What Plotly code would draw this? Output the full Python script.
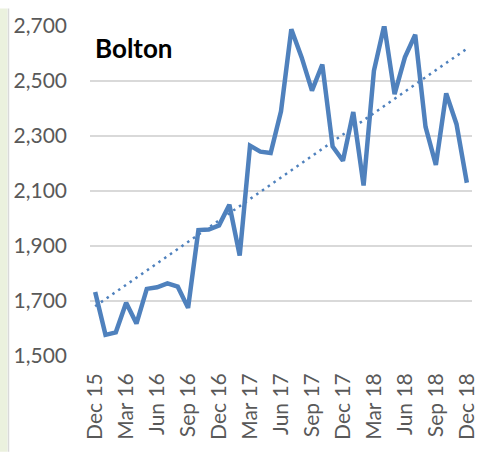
import numpy as np
import plotly.graph_objects as go

# Monthly figures for Bolton, Dec 2015 - Dec 2018
months = [
    "Dec 15", "Jan 16", "Feb 16", "Mar 16", "Apr 16", "May 16", "Jun 16",
    "Jul 16", "Aug 16", "Sep 16", "Oct 16", "Nov 16", "Dec 16",
    "Jan 17", "Feb 17", "Mar 17", "Apr 17", "May 17", "Jun 17",
    "Jul 17", "Aug 17", "Sep 17", "Oct 17", "Nov 17", "Dec 17",
    "Jan 18", "Feb 18", "Mar 18", "Apr 18", "May 18", "Jun 18",
    "Jul 18", "Aug 18", "Sep 18", "Oct 18", "Nov 18", "Dec 18",
]
values = [
    1733, 1577, 1586, 1694, 1618, 1744, 1750, 1764, 1752, 1675, 1958, 1960, 1975,
    2050, 1865, 2265, 2243, 2238, 2390, 2688, 2586, 2465, 2560, 2262, 2210,
    2387, 2120, 2537, 2702, 2452, 2586, 2668, 2333, 2195, 2455, 2343, 2130,
]
tick_labels = ["Dec 15", "Mar 16", "Jun 16", "Sep 16", "Dec 16", "Mar 17", "Jun 17",
               "Sep 17", "Dec 17", "Mar 18", "Jun 18", "Sep 18", "Dec 18"]
y_ticks = [1500, 1700, 1900, 2100, 2300, 2500, 2700]

BLUE = "#4F81BD"
GRID = "#D9D9D9"
TEXT = "#595959"
FONT = "Lato"

# Linear trend over the series
idx = np.arange(len(values))
slope, intercept = np.polyfit(idx, values, 1)
trend = slope * idx + intercept

W, H = 494, 454
L, R, T, B = 90, 22, 18, 98
plot_w = W - L - R
plot_h = H - T - B

def px_x(p):
    return (p - L) / plot_w

def px_y(p):
    return (H - B - p) / plot_h

fig = go.Figure()
fig.add_trace(go.Scatter(
    x=months, y=values, mode="lines",
    line=dict(color=BLUE, width=4.5), showlegend=False,
))
fig.add_trace(go.Scatter(
    x=months, y=trend, mode="lines",
    line=dict(color=BLUE, width=2.5, dash="2.5px,4.5px"), showlegend=False,
))

fig.update_layout(
    width=W, height=H,
    margin=dict(l=L, r=R, t=T, b=B, pad=0),
    paper_bgcolor="white", plot_bgcolor="white",
    font=dict(family=FONT, color=TEXT, size=21),
    xaxis=dict(
        type="category", range=[-0.5, len(months) - 0.5],
        tickmode="array", tickvals=tick_labels, ticktext=tick_labels,
        tickangle=-90, showgrid=False, zeroline=False, showline=False,
        ticks="", ticklabelstandoff=12,
        tickfont=dict(family=FONT, size=21, color=TEXT),
    ),
    yaxis=dict(
        range=[1500, 2700], tickvals=y_ticks,
        ticktext=[f"{v:,}" for v in y_ticks],
        showgrid=True, gridcolor=GRID, gridwidth=1.5,
        zeroline=False, showline=False, ticks="",
        ticklabelstandoff=22,
        tickfont=dict(family=FONT, size=21, color=TEXT),
    ),
    shapes=[
        dict(type="rect", xref="paper", yref="paper",
             x0=px_x(0), x1=px_x(7.5), y0=px_y(H), y1=px_y(0),
             fillcolor="#EBF1DE", line=dict(width=0), layer="below"),
        dict(type="line", xref="paper", yref="paper",
             x0=px_x(8.5), x1=px_x(8.5), y0=px_y(H), y1=px_y(0),
             line=dict(color=GRID, width=1.5)),
    ],
    annotations=[
        dict(text="<b>Bolton</b>", xref="paper", yref="paper",
             x=px_x(93), y=px_y(41), xanchor="left", yanchor="middle",
             showarrow=False,
             font=dict(family=FONT, size=26, color="black")),
    ],
)

fig.write_html("out.html")
